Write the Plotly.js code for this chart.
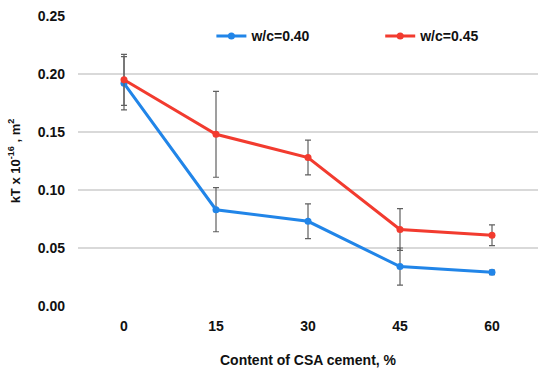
<!DOCTYPE html>
<html>
<head>
<meta charset="utf-8">
<script src="https://cdn.plot.ly/plotly-3.0.1.min.js"></script>
<style>html,body{margin:0;padding:0;background:#fff;}#chart{width:550px;height:376px;}</style>
</head>
<body>
<div id="chart"></div>
<script>
const categories = ["0", "15", "30", "45", "60"];
const seriesNames = ["w/c=0.40", "w/c=0.45"];
const kt040 = [0.192, 0.083, 0.073, 0.034, 0.029];
const err040 = [0.023, 0.019, 0.015, 0.016, 0.002];
const kt045 = [0.195, 0.148, 0.128, 0.066, 0.061];
const err045 = [0.022, 0.037, 0.015, 0.018, 0.009];
const colors = ["#2185E8", "#F23B2F"];

const fontFam = "Arial, 'Liberation Sans', sans-serif";
function mk(name, y, e, c, lg) {
  return {
    x: categories, y: y, name: name, type: "scatter", mode: "lines+markers",
    legend: lg,
    line: {color: c, width: 3},
    marker: {color: c, size: 7},
    error_y: {type: "data", array: e, visible: true, color: "#606060", thickness: 1.2, width: 3}
  };
}
const data = [mk(seriesNames[0], kt040, err040, colors[0], "legend"), mk(seriesNames[1], kt045, err045, colors[1], "legend2")];
const tf = {family: fontFam, size: 14, color: "#111", weight: "bold"};
const lgBase = {orientation: "h", y: 0.985, xanchor: "left", yanchor: "top", font: tf, itemwidth: 30, bgcolor: "rgba(0,0,0,0)"};
const layout = {
  width: 550, height: 376,
  margin: {l: 78, r: 12, t: 16, b: 70},
  paper_bgcolor: "#fff", plot_bgcolor: "#fff",
  font: {family: fontFam, size: 13, color: "#111", weight: "bold"},
  showlegend: true,
  legend: Object.assign({}, lgBase, {x: 0.29}),
  legend2: Object.assign({}, lgBase, {x: 0.657}),
  xaxis: {type: "category", range: [-0.5, 4.5], showgrid: false, zeroline: false, showline: false, ticks: "",
          tickfont: tf, ticklabelstandoff: 10, automargin: false,
          title: {text: "Content of CSA cement, %", font: tf, standoff: 22}},
  yaxis: {range: [0, 0.25], dtick: 0.05, tickformat: ".2f", showgrid: true, gridcolor: "#D9D9D9", gridwidth: 1.5,
          zeroline: false, showline: false, ticks: "", automargin: false, ticklabelstandoff: 12,
          tickfont: tf,
          title: {text: "kT x 10<sup>-16</sup> , m<sup>2</sup>", font: {family: fontFam, size: 13, color: "#111", weight: "bold"}, standoff: 14}}
};
Plotly.newPlot("chart", data, layout, {displayModeBar: false, staticPlot: true});
</script>
</body>
</html>
